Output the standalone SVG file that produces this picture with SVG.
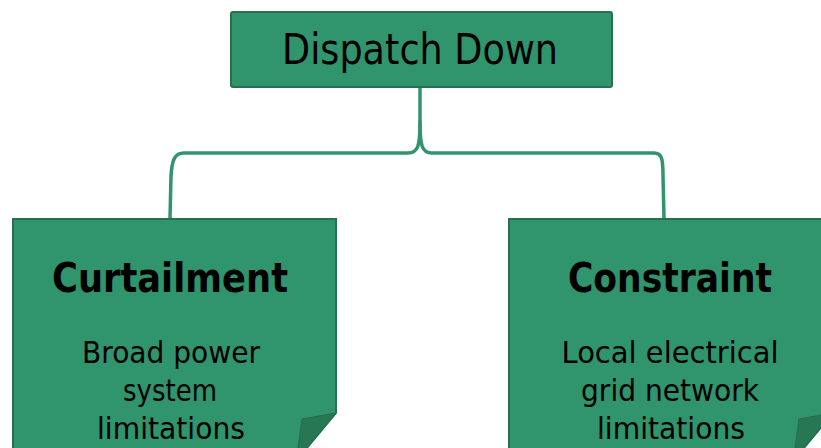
<svg xmlns="http://www.w3.org/2000/svg" width="821" height="448" viewBox="0 0 821 448">
<style>
.box{fill:#30946d;stroke:#28704f;stroke-width:2}
.fold{fill:#277755;stroke:#256c4e;stroke-width:1}
.conn{fill:none;stroke:#30946d;stroke-width:3.5;stroke-linecap:round}
.t{font-family:"DejaVu Sans","Liberation Sans",sans-serif;fill:#000;text-anchor:middle}
.title{font-size:43px}
.head{font-size:41px;font-weight:bold}
.body{font-size:30px}
</style>
<rect width="821" height="448" fill="#fff"/>
<g id="connectors">
<path class="conn" d="M420,88 L420,122 C420,146 418,153 408,153 L184,153 C175,153 172,159 171,176 L170,218"/>
<path class="conn" d="M420,122 C420,146 422,153 432,153 L654,153 C662,153 663,159 663,176 L664,218"/>
</g>
<g id="node-dispatch">
<rect class="box" x="231" y="12" width="381" height="75" rx="2"/>
<text class="t title" x="420" y="64" textLength="276" lengthAdjust="spacingAndGlyphs">Dispatch Down</text>
</g>
<g id="node-curtailment">
<polygon class="box" points="13,219 336,219 336,413 301,455 13,455"/>
<polygon class="fold" points="336,413 302,419 297,455 301,455"/>
<text class="t head" x="170" y="292" textLength="236" lengthAdjust="spacingAndGlyphs">Curtailment</text>
<text class="t body" x="171" y="363" textLength="178" lengthAdjust="spacingAndGlyphs">Broad power</text>
<text class="t body" x="170" y="401" textLength="94" lengthAdjust="spacingAndGlyphs">system</text>
<text class="t body" x="171" y="439" textLength="148" lengthAdjust="spacingAndGlyphs">limitations</text>
</g>
<g id="node-constraint">
<polygon class="box" points="509,219 833,219 833,413 798,455 509,455"/>
<polygon class="fold" points="833,413 799,419 794,455 798,455"/>
<text class="t head" x="670" y="292" textLength="204" lengthAdjust="spacingAndGlyphs">Constraint</text>
<text class="t body" x="670" y="363" textLength="217" lengthAdjust="spacingAndGlyphs">Local electrical</text>
<text class="t body" x="670" y="401" textLength="178" lengthAdjust="spacingAndGlyphs">grid network</text>
<text class="t body" x="671" y="439" textLength="148" lengthAdjust="spacingAndGlyphs">limitations</text>
</g>
</svg>
